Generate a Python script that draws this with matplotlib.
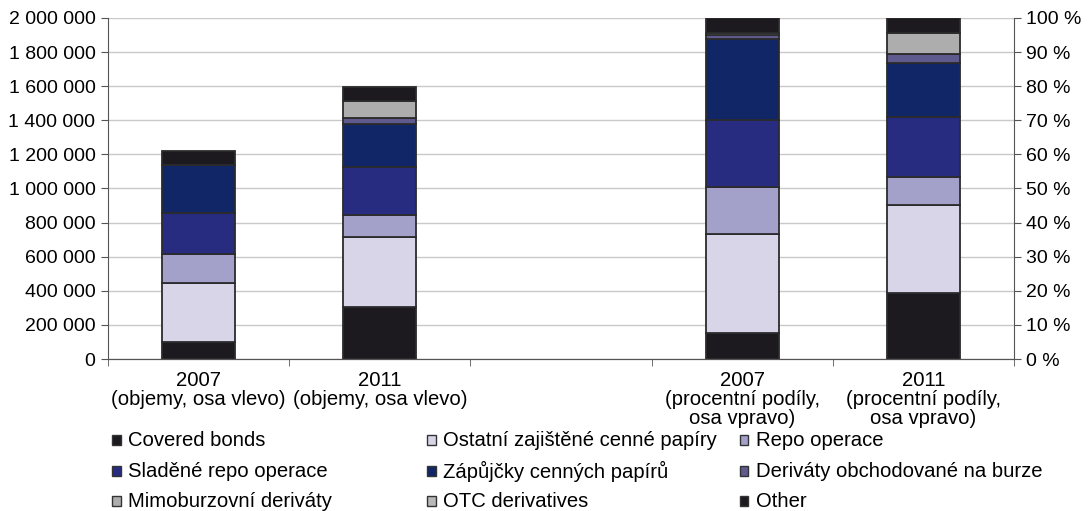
import matplotlib
matplotlib.use("Agg")
import matplotlib.pyplot as plt
from matplotlib.patches import Rectangle
import numpy as np

plt.rcParams['font.family'] = ['Liberation Sans', 'DejaVu Sans']

# ---- data ----
series = ["Covered bonds", "Ostatní zajištěné cenné papíry", "Repo operace",
          "Sladěné repo operace", "Zápůjčky cenných papírů",
          "Deriváty obchodované na burze", "Mimoburzovní deriváty",
          "OTC derivatives", "Other"]
colors = ["#1c1a1f", "#d7d5e7", "#a3a0c9", "#272c81", "#112667",
          "#5e5a8d", "#adadad", "#b8b8b8", "#1c1a1f"]

cat_labels = ["2007\n(objemy, osa vlevo)", "2011\n(objemy, osa vlevo)", "",
              "2007\n(procentní podíly,\nosa vpravo)", "2011\n(procentní podíly,\nosa vpravo)"]

# volumes (left axis), per series
vol_2007 = [100000, 345000, 170000, 240000, 282000, 0, 0, 0, 83000]
vol_2011 = [305000, 411000, 129000, 281000, 252000, 35000, 100000, 0, 82000]
# shares in % (right axis)
pct_2007 = [7.6, 29.1, 13.8, 19.6, 23.8, 1.2, 0.0, 0.5, 4.4]
pct_2011 = [19.4, 25.8, 8.2, 17.6, 15.7, 2.7, 6.2, 0.0, 4.4]

left_ticks = [0, 200000, 400000, 600000, 800000, 1000000, 1200000,
              1400000, 1600000, 1800000, 2000000]
right_ticks = list(range(0, 101, 10))

# ---- figure ----
fig = plt.figure(figsize=(10.89, 5.11), dpi=100)
ax = fig.add_axes([108/1089, 1-359/511, (1014-108)/1089, (359-18)/511])
ax2 = ax.twinx()

fs = 14
fs_txt = 14.6
bw = 0.405
edge = "#2b2b2e"

for ax_, pos, vals in [(ax, 0, vol_2007), (ax, 1, vol_2011),
                       (ax2, 3, pct_2007), (ax2, 4, pct_2011)]:
    bottom = 0
    for v, c in zip(vals, colors):
        if v > 0:
            ax_.bar(pos, v, bw, bottom=bottom, color=c, edgecolor=edge,
                    linewidth=1.3, zorder=3)
        bottom += v

ax.set_xlim(-0.5, 4.5)
ax.set_ylim(0, 2000000)
ax2.set_ylim(0, 100)

ax.set_yticks(left_ticks)
ax.set_yticklabels([f"{t:,}".replace(",", " ") for t in left_ticks], fontsize=fs)
ax2.set_yticks(right_ticks)
ax2.set_yticklabels([f"{t} %" for t in right_ticks], fontsize=fs)

ax.set_xticks(range(5))
ax.set_xticklabels(cat_labels, fontsize=fs_txt, linespacing=1.02, va="top")
ax.set_xticks(np.arange(-0.5, 5, 1.0), minor=True)
ax.tick_params(axis="x", which="major", length=0, pad=8.5)
ax.tick_params(axis="x", which="minor", length=5, direction="out", color="#555555")
ax.tick_params(axis="y", length=5, direction="out", pad=4, color="#555555")
ax2.tick_params(axis="y", length=5, direction="out", pad=4, color="#555555")

ax.yaxis.grid(True, color="#c9c9c9", linewidth=1.0, zorder=0)
ax.set_axisbelow(True)
for a in (ax, ax2):
    a.spines["top"].set_visible(False)
    a.spines["left"].set_color("#555555")
    a.spines["right"].set_color("#555555")
    a.spines["bottom"].set_color("#555555")
ax.spines["right"].set_visible(False)
ax2.spines["left"].set_visible(False)

# ---- legend (manual, row-wise 3 columns) ----
col_x = [112, 427, 740]
row_y = [440, 471, 501]
W, H = 1089.0, 511.0
for i, (name, c) in enumerate(zip(series, colors)):
    r, k = divmod(i, 3)
    x0, y0 = col_x[k], row_y[r]
    fig.patches.append(Rectangle((x0/W, 1-(y0+4.5)/H), 8.5/W, 9.5/H,
                                 transform=fig.transFigure, facecolor=c,
                                 edgecolor="#333333", linewidth=1.0))
    fig.text((x0+16)/W, 1-y0/H, name, fontsize=fs_txt, va="center", ha="left")

fig.savefig("out.png", dpi=100)
